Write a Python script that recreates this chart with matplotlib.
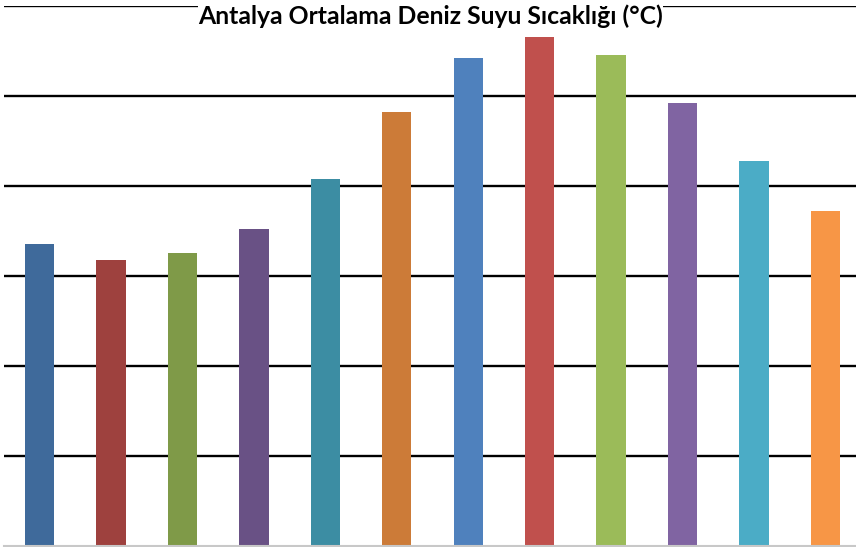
import matplotlib
matplotlib.use("Agg")
import matplotlib.pyplot as plt

# Antalya monthly mean sea water temperature (°C)
months = ["Ocak", "Şubat", "Mart", "Nisan", "Mayıs", "Haziran",
          "Temmuz", "Ağustos", "Eylül", "Ekim", "Kasım", "Aralık"]
temps = [16.8, 15.9, 16.3, 17.6, 20.4, 24.1, 27.1, 28.3, 27.3, 24.6, 21.4, 18.6]
colors = ["#3F6A9B", "#9E413E", "#7F9A48", "#695185", "#3C8DA3", "#CC7B38",
          "#4F81BD", "#C0504D", "#9BBB59", "#8064A2", "#4BACC6", "#F79646"]
grid_levels = [5, 10, 15, 20, 25, 30]

fig = plt.figure(figsize=(8.56, 5.47), dpi=100)
ax = fig.add_axes([4 / 856, 1 / 547, 857 / 856, 540 / 547])

x = range(len(months))
for lvl in grid_levels:
    ax.axhline(lvl, color="black", lw=1.7, zorder=1)
ax.bar(x, temps, width=0.41, color=colors, zorder=2)

ax.set_xlim(-0.5, len(months) - 0.5)
ax.set_ylim(0, 30)
ax.set_xticks([])
ax.set_yticks([])
for side in ["left", "right", "top"]:
    ax.spines[side].set_visible(False)
ax.spines["bottom"].set_color("#C8C8C8")
ax.spines["bottom"].set_linewidth(1.5)

fig.text(0.503, 0.970, "Antalya Ortalama Deniz Suyu Sıcaklığı (°C)",
         ha="center", va="center", fontsize=17.8, fontweight="bold",
         family="Lato", zorder=5,
         bbox=dict(facecolor="white", edgecolor="none", pad=0))

fig.savefig("out.png", dpi=100)
